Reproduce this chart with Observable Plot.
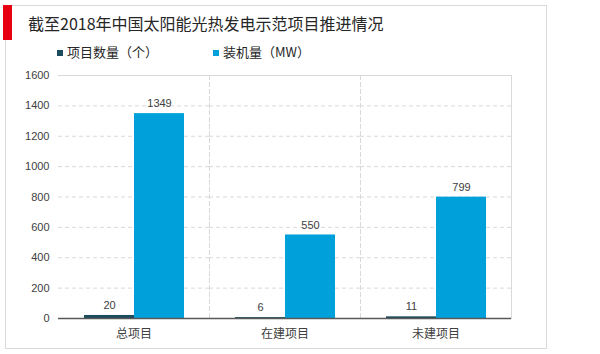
<!DOCTYPE html>
<html>
<head>
<meta charset="utf-8">
<script src="https://cdn.jsdelivr.net/npm/d3@7"></script>
<script src="https://cdn.jsdelivr.net/npm/@observablehq/plot@0.6"></script>
<style>
  html, body { margin: 0; padding: 0; background: #fff; }
  #wrap { position: relative; width: 600px; height: 354px; overflow: hidden; font-family: "Noto Sans CJK SC", "Liberation Sans", sans-serif; }
  #box { position: absolute; left: 5px; top: 5px; width: 542px; height: 344px; border: 1px solid #d9d9d9; box-sizing: border-box; }
  #redbar { position: absolute; left: 3px; top: 5px; width: 9px; height: 35px; background: #e60012; }
  #title { position: absolute; left: 28px; top: 12px; font-size: 16px; color: #262626; line-height: 22px; white-space: nowrap; }
  #legend { position: absolute; left: 57px; top: 43px; font-size: 13px; color: #262626; line-height: 18px; white-space: nowrap; }
  .item { position: absolute; top: 0; }
  .sw { display: inline-block; width: 6px; height: 6px; margin-right: 4px; vertical-align: 1px; }
  #chart { position: absolute; left: 0; top: 60px; }
</style>
</head>
<body>
<div id="wrap">
  <div id="box"></div>
  <div id="redbar"></div>
  <div id="title">截至2018年中国太阳能光热发电示范项目推进情况</div>
  <div id="legend"></div>
  <div id="chart"></div>
</div>
<script>
const categories = ["总项目", "在建项目", "未建项目"];
const series = ["项目数量（个）", "装机量（MW）"];
const projectCounts = [20, 6, 11];
const capacityMW = [1349, 550, 799];
const yTicks = [0, 200, 400, 600, 800, 1000, 1200, 1400, 1600];
const colors = ["#1b4d5e", "#00a0da"];

const data = [];
categories.forEach((c, i) => {
  data.push({cat: c, series: series[0], value: projectCounts[i]});
  data.push({cat: c, series: series[1], value: capacityMW[i]});
});

// legend
const legend = document.getElementById("legend");
const legendX = [0, 156];
series.forEach((s, i) => {
  const it = document.createElement("div");
  it.className = "item";
  it.style.left = legendX[i] + "px";
  it.innerHTML = `<span class="sw" style="background:${colors[i]}"></span>${s}`;
  legend.appendChild(it);
});

const axisColor = "#595959";
const gridColor = "#d9d9d9";

const marks = [
  Plot.gridY(yTicks.filter(t => t > 0 && t < 1600), {stroke: gridColor, strokeOpacity: 1, strokeDasharray: "4,3"}),
  Plot.frame({anchor: "top", stroke: gridColor}),
  Plot.frame({anchor: "right", stroke: gridColor, strokeDasharray: "4,3"}),
  Plot.barY(data, {fx: "cat", x: "series", y: "value", fill: "series"}),
  Plot.text(data, {fx: "cat", x: "series", y: "value", text: d => String(d.value), dy: -10, fill: "#404040", fontSize: 11, fontFamily: "Liberation Sans, Arial, sans-serif"}),
  Plot.axisY(yTicks, {tickSize: 0, tickPadding: 9, fontSize: 11, fill: "#404040", tickFormat: d => String(d), fontFamily: "Liberation Sans, Arial, sans-serif", label: null}),
  Plot.axisY(yTicks, {tickSize: 0, line: true, stroke: axisColor, strokeWidth: 1.5, tickFormat: null, text: null, label: null}),
  Plot.ruleY([0], {stroke: axisColor, strokeWidth: 1.5})
];

let superFrame = null;
try {
  superFrame = Plot.frame({anchor: "right", stroke: gridColor, facet: "super"});
} catch (e) { superFrame = null; }

function build(extra) {
  return Plot.plot({
    width: 600,
    height: 290,
    marginTop: 15,
    marginBottom: 32,
    marginLeft: 57,
    marginRight: 88,
    style: {background: "transparent", fontFamily: "Noto Sans CJK SC, sans-serif"},
    fx: {domain: categories, padding: 0, label: null, tickSize: 0, tickPadding: 11, axis: "bottom"},
    x: {domain: series, paddingInner: 0, paddingOuter: 0.5, axis: null},
    y: {domain: [0, 1600], axis: null},
    color: {domain: series, range: colors},
    marks: extra ? [...marks, extra] : marks
  });
}

let chart;
try {
  chart = build(superFrame);
} catch (e) {
  chart = build(null);
}
chart.querySelectorAll("g[aria-label='fx-axis tick label']").forEach(el => {
  el.setAttribute("font-size", "12");
  el.setAttribute("fill", "#404040");
});
document.getElementById("chart").appendChild(chart);
</script>
</body>
</html>
